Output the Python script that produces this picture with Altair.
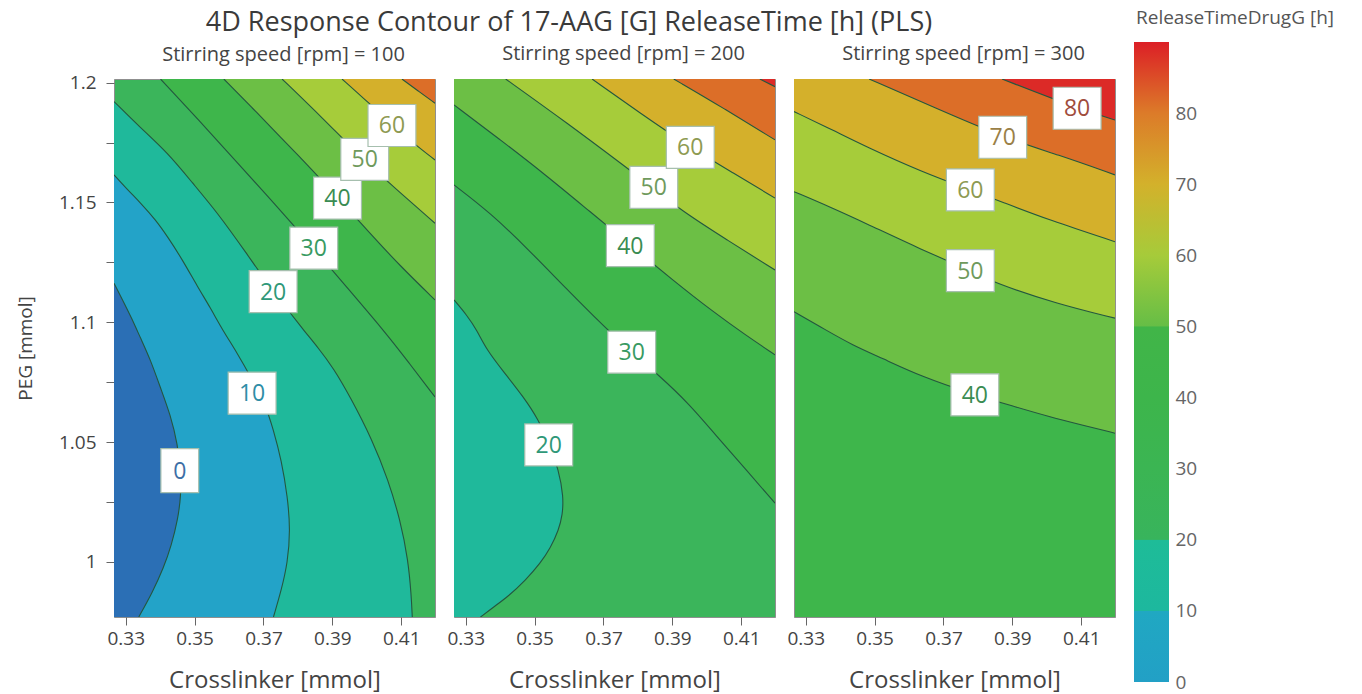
import altair as alt
import pandas as pd

TITLE = "4D Response Contour of 17-AAG [G] ReleaseTime [h] (PLS)"
X_TITLE = "Crosslinker [mmol]"
Y_TITLE = "PEG [mmol]"
LEGEND_TITLE = "ReleaseTimeDrugG [h]"
SPEEDS = [100, 200, 300]

X_DOMAIN = [0.3266, 0.4198]
Y_DOMAIN = [0.977, 1.2015]
X_TICKS = [0.33, 0.35, 0.37, 0.39, 0.41]
Y_TICKS = [1.0, 1.025, 1.05, 1.075, 1.1, 1.125, 1.15, 1.175, 1.2]
LEGEND_TICKS = [0, 10, 20, 30, 40, 50, 60, 70, 80]
LEGEND_AXIS_DOMAIN = [0, 84.8]

# ---- contour lines: level -> (Crosslinker, PEG) ----
P1_CONTOURS = {
    0: ([0.3266, 0.3291, 0.3317, 0.3343, 0.3372, 0.3401, 0.3430, 0.3451, 0.3459, 0.3461, 0.3451, 0.3433, 0.3410, 0.3378, 0.3338],
        [1.1163, 1.1093, 1.1018, 1.0934, 1.0843, 1.0726, 1.0613, 1.0488, 1.0384, 1.0279, 1.0175, 1.0071, 0.9975, 0.9874, 0.9770]),
    10: ([0.3266, 0.3306, 0.3343, 0.3387, 0.3422, 0.3465, 0.3509, 0.3546, 0.3581, 0.3622, 0.3668, 0.3706, 0.3729, 0.3752, 0.3770, 0.3778, 0.3770, 0.3752, 0.3729],
         [1.1615, 1.1552, 1.1498, 1.1427, 1.1356, 1.1260, 1.1147, 1.1060, 1.0968, 1.0876, 1.0759, 1.0655, 1.0550, 1.0425, 1.0271, 1.0133, 0.9995, 0.9883, 0.9770]),
    20: ([0.3266, 0.3343, 0.3422, 0.3494, 0.3567, 0.3648, 0.3729, 0.3778, 0.3816, 0.3859, 0.3903, 0.3952, 0.4016, 0.4062, 0.4097, 0.4120, 0.4129, 0.4132],
         [1.1921, 1.1811, 1.1707, 1.1581, 1.1456, 1.1293, 1.1126, 1.1039, 1.0968, 1.0893, 1.0809, 1.0688, 1.0509, 1.0342, 1.0175, 1.0008, 0.9862, 0.9770]),
    30: ([0.3401, 0.3512, 0.3622, 0.3735, 0.3845, 0.3946, 0.4048, 0.4123, 0.4198],
         [1.2015, 1.1844, 1.1669, 1.1490, 1.1310, 1.1139, 1.0968, 1.0830, 1.0688]),
    40: ([0.3585, 0.3668, 0.3749, 0.3836, 0.3918, 0.4010, 0.4097, 0.4198],
         [1.2015, 1.1894, 1.1773, 1.1644, 1.1518, 1.1369, 1.1235, 1.1093]),
    50: ([0.3754, 0.3871, 0.3991, 0.4097, 0.4198],
         [1.2015, 1.1853, 1.1677, 1.1540, 1.1413]),
    60: ([0.3928, 0.3999, 0.4073, 0.4135, 0.4198],
         [1.2015, 1.1924, 1.1823, 1.1748, 1.1677]),
    70: ([0.4102, 0.4149, 0.4198],
         [1.2015, 1.1965, 1.1914]),
}
P2_CONTOURS = {
    20: ([0.3266, 0.3303, 0.3332, 0.3361, 0.3410, 0.3468, 0.3512, 0.3543, 0.3570, 0.3584, 0.3581, 0.3570, 0.3546, 0.3517, 0.3474, 0.3422, 0.3381, 0.3343],
         [1.1093, 1.1030, 1.0968, 1.0884, 1.0793, 1.0688, 1.0592, 1.0488, 1.0384, 1.0271, 1.0196, 1.0133, 1.0058, 0.9995, 0.9924, 0.9854, 0.9812, 0.9770]),
    30: ([0.3266, 0.3372, 0.3483, 0.3590, 0.3703, 0.3781, 0.3857, 0.3952, 0.4025, 0.4112, 0.4198],
         [1.1573, 1.1456, 1.1302, 1.1143, 1.0980, 1.0876, 1.0784, 1.0655, 1.0530, 1.0388, 1.0245]),
    40: ([0.3266, 0.3401, 0.3532, 0.3662, 0.3778, 0.3900, 0.4019, 0.4112, 0.4198],
         [1.1907, 1.1761, 1.1615, 1.1460, 1.1323, 1.1177, 1.1043, 1.0947, 1.0864]),
    50: ([0.3416, 0.3595, 0.3769, 0.3846, 0.3923, 0.4059, 0.4198],
         [1.2015, 1.1831, 1.1643, 1.1559, 1.1469, 1.1343, 1.1218]),
    60: ([0.3667, 0.3807, 0.3952, 0.4078, 0.4198],
         [1.2015, 1.1872, 1.1730, 1.1622, 1.1518]),
    70: ([0.3904, 0.4049, 0.4198],
         [1.2015, 1.1893, 1.1761]),
    80: ([0.4154, 0.4198],
         [1.2015, 1.1983]),
}
P3_CONTOURS = {
    40: ([0.3266, 0.3358, 0.3435, 0.3522, 0.3638, 0.3791, 0.3899, 0.4006, 0.4102, 0.4198],
         [1.1044, 1.0968, 1.0905, 1.0850, 1.0772, 1.0697, 1.0651, 1.0606, 1.0571, 1.0537]),
    50: ([0.3266, 0.3377, 0.3474, 0.3638, 0.3778, 0.3851, 0.4025, 0.4198],
         [1.1545, 1.1477, 1.1413, 1.1302, 1.1215, 1.1163, 1.1079, 1.1017]),
    60: ([0.3266, 0.3377, 0.3474, 0.3638, 0.3778, 0.3870, 0.4006, 0.4198],
         [1.1879, 1.1803, 1.1733, 1.1627, 1.1552, 1.1502, 1.1427, 1.1336]),
    70: ([0.3484, 0.3667, 0.3872, 0.4035, 0.4198],
         [1.2015, 1.1900, 1.1772, 1.1698, 1.1615]),
    80: ([0.3870, 0.4087, 0.4198],
         [1.2015, 1.1893, 1.1844]),
}

# contours whose lower side lies to their left (painted left, high to low)
# and contours whose higher side lies above them (painted above, low to high)
P1_LEFT, P1_ABOVE, P1_BASE = [20, 10, 0], [30, 40, 50, 60, 70], 20
P2_LEFT, P2_ABOVE, P2_BASE = [20], [30, 40, 50, 60, 70, 80], 20
P3_LEFT, P3_ABOVE, P3_BASE = [], [40, 50, 60, 70, 80], 30

# contour labels: level, Crosslinker, PEG
P1_LABELS = ([0, 10, 20, 30, 40, 50, 60],
             [0.3457, 0.3667, 0.3728, 0.3846, 0.3915, 0.3994, 0.4073],
             [1.0381, 1.0704, 1.1128, 1.1309, 1.1518, 1.1680, 1.1821])
P2_LABELS = ([20, 30, 40, 50, 60],
             [0.3541, 0.3782, 0.3778, 0.3846, 0.3952],
             [1.0488, 1.0875, 1.1320, 1.1563, 1.1730])
P3_LABELS = ([40, 50, 60, 70, 80],
             [0.3791, 0.3778, 0.3778, 0.3872, 0.4088],
             [1.0697, 1.1215, 1.1552, 1.1772, 1.1893])

# ---- styles ----
BAND_COLORS = {-10: "#2b6fb5", 0: "#23a3c8", 10: "#1fb99b", 20: "#3bb55b",
               30: "#3eb64b", 40: "#6cbf45", 50: "#a6cc3a", 60: "#d4b02b",
               70: "#dc6e28", 80: "#dc2a27"}
LABEL_COLORS = {0: "#3d6fa6", 10: "#2e8da6", 20: "#2f9878", 30: "#389a62",
                40: "#3a8c52", 50: "#6f9a5c", 60: "#8e9a52", 70: "#9a8046",
                80: "#a04c3c"}
# colour bar stops (value, colour)
LEGEND_STOPS = [0, 9.95, 10.05, 19.95, 20.05, 30, 40, 49.95, 50.05, 60, 70, 80, 90]
LEGEND_COLORS = ["#22a0c6", "#20a8c2", "#1db89e", "#1ebc98", "#38b45c", "#3bb553",
                 "#3db54b", "#41b548", "#66be46", "#a6cb3a", "#d3b12b", "#dc7b29",
                 "#dc1f26"]
FONT = "Open Sans"
LINE_COLOR = "#24573f"
BOX_WIDE = "M-1.14,-1L1.14,-1L1.14,1L-1.14,1Z"
BOX_NARROW = "M-0.9,-1.05L0.9,-1.05L0.9,1.05L-0.9,1.05Z"

XS = alt.Scale(domain=X_DOMAIN, nice=False, zero=False)
YS = alt.Scale(domain=Y_DOMAIN, nice=False, zero=False)
X_AXIS = alt.Axis(values=X_TICKS, format=".2f", title=X_TITLE)
Y_AXIS = alt.Axis(values=Y_TICKS, title=Y_TITLE,
                  labelExpr="(round(datum.value*1000) % 50 == 0) ? format(datum.value, '~g') : ''")

_lo, _hi = LEGEND_STOPS[0], LEGEND_STOPS[-1]
BAR_FILL = alt.LinearGradient(
    gradient="linear", x1=0, y1=1, x2=0, y2=0,
    stops=[alt.GradientStop(offset=(v - _lo) / (_hi - _lo), color=c)
           for v, c in zip(LEGEND_STOPS, LEGEND_COLORS)])


def panel(speed, contours, left, above, base, labels, show_y):
    yaxis = Y_AXIS if show_y else None
    layers = []
    for lvl in above:
        xs, ys = contours[lvl]
        df = pd.DataFrame({"x": xs, "y": ys, "top": Y_DOMAIN[1]})
        layers.append(alt.Chart(df).mark_area(interpolate="basis", orient="vertical",
                                              color=BAND_COLORS[lvl], clip=True).encode(
            x=alt.X("x:Q", scale=XS, axis=X_AXIS),
            y=alt.Y("y:Q", scale=YS, axis=yaxis),
            y2="top:Q"))
    for lvl in left:
        xs, ys = contours[lvl]
        df = pd.DataFrame({"x": xs, "y": ys, "edge": X_DOMAIN[0]})
        layers.append(alt.Chart(df).mark_area(interpolate="basis", orient="horizontal",
                                              color=BAND_COLORS[lvl - 10], clip=True).encode(
            y=alt.Y("y:Q", scale=YS, axis=yaxis),
            x=alt.X("x:Q", scale=XS, axis=X_AXIS),
            x2="edge:Q"))
    for lvl, (xs, ys) in contours.items():
        df = pd.DataFrame({"x": xs, "y": ys, "i": list(range(len(xs)))})
        layers.append(alt.Chart(df).mark_line(interpolate="basis", color=LINE_COLOR,
                                              strokeWidth=1.1, clip=True).encode(
            x=alt.X("x:Q", scale=XS, axis=X_AXIS),
            y=alt.Y("y:Q", scale=YS, axis=yaxis),
            order="i:Q"))
    lv, lx, ly = labels
    ldf = pd.DataFrame({"lvl": lv, "x": lx, "y": ly,
                        "txt": [str(v) for v in lv],
                        "box": ["narrow" if v < 10 else "wide" for v in lv],
                        "tc": [LABEL_COLORS[v] for v in lv]})
    layers.append(alt.Chart(ldf).mark_point(filled=True, fill="white", stroke="#a6bfae",
                                            strokeWidth=1.2, opacity=1, size=1764).encode(
        x=alt.X("x:Q", scale=XS, axis=X_AXIS),
        y=alt.Y("y:Q", scale=YS, axis=yaxis),
        shape=alt.Shape("box:N", scale=alt.Scale(domain=["wide", "narrow"],
                                                 range=[BOX_WIDE, BOX_NARROW]), legend=None)))
    layers.append(alt.Chart(ldf).mark_text(font=FONT, fontSize=23, baseline="middle",
                                           align="center", dy=1).encode(
        x=alt.X("x:Q", scale=XS, axis=X_AXIS),
        y=alt.Y("y:Q", scale=YS, axis=yaxis),
        text="txt:N",
        fill=alt.Fill("tc:N", scale=None)))
    return alt.layer(*layers).properties(
        width=321, height=538,
        title=alt.TitleParams(f"Stirring speed [rpm] = {speed}", font=FONT, fontSize=20,
                              fontWeight="normal", color="#444",
                              offset=9 if show_y else 15, frame="group", dx=9),
        view=alt.ViewBackground(fill=BAND_COLORS[base], stroke="#8f8f8f", strokeWidth=1))


p1 = panel(SPEEDS[0], P1_CONTOURS, P1_LEFT, P1_ABOVE, P1_BASE, P1_LABELS, True)
p2 = panel(SPEEDS[1], P2_CONTOURS, P2_LEFT, P2_ABOVE, P2_BASE, P2_LABELS, False)
p3 = panel(SPEEDS[2], P3_CONTOURS, P3_LEFT, P3_ABOVE, P3_BASE, P3_LABELS, False)

bar_df = pd.DataFrame({"lo": [_lo], "hi": [_hi]})
colorbar = alt.Chart(bar_df).mark_rect(color=BAR_FILL).encode(
    y=alt.Y("lo:Q", scale=alt.Scale(domain=LEGEND_AXIS_DOMAIN, nice=False, zero=False),
            axis=alt.Axis(orient="right", values=LEGEND_TICKS, title=None, tickSize=0,
                          domain=False, grid=False, labelPadding=6, labelColor="#666",
                          labelFontSize=19, labelFlush=False)),
    y2="hi:Q",
).properties(
    width=35, height=603,
    title=alt.TitleParams(LEGEND_TITLE, font=FONT, fontSize=19, fontWeight="normal",
                          color="#555", anchor="start", frame="group", offset=14, dx=2),
    view=alt.ViewBackground(strokeWidth=0),
)

chart = alt.hconcat(p1, p2, p3, colorbar, spacing=19, bounds="flush").properties(
    title=alt.TitleParams(TITLE, font=FONT, fontSize=27, fontWeight="normal",
                          color="#3a3a3a", anchor="middle", dx=-106, offset=-28),
    padding={"left": 15, "top": 9, "right": 5, "bottom": 0},
).resolve_scale(
    x="independent", y="independent"
).configure_axis(
    labelFont=FONT, labelFontSize=19, labelColor="#444",
    titleFont=FONT, titleFontWeight="normal", titleColor="#444",
    tickColor="#666", tickSize=8, domain=False, grid=False,
).configure_axisX(
    labelPadding=4, titlePadding=20, titleFontSize=24,
).configure_axisY(
    labelPadding=10, titlePadding=23, titleFontSize=19,
).configure_view(stroke="#8f8f8f")

chart.save("out.html", embed_options={"renderer": "svg", "actions": False})
